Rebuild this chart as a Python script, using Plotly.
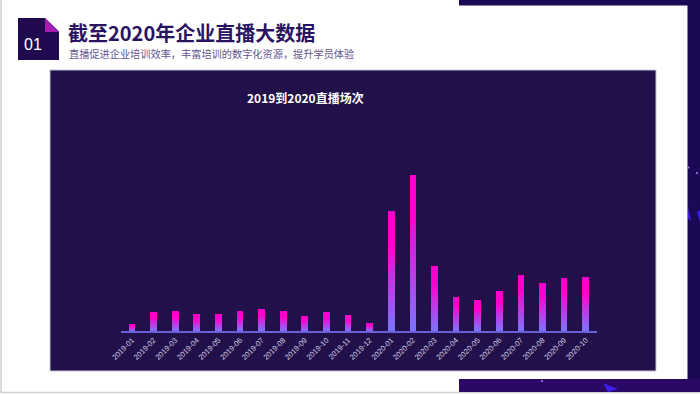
import plotly.graph_objects as go

# ---- data ----
months = ["2019-01", "2019-02", "2019-03", "2019-04", "2019-05", "2019-06",
          "2019-07", "2019-08", "2019-09", "2019-10", "2019-11", "2019-12",
          "2020-01", "2020-02", "2020-03", "2020-04", "2020-05", "2020-06",
          "2020-07", "2020-08", "2020-09", "2020-10"]
sessions = [430, 1180, 1240, 1050, 1050, 1240, 1390, 1220, 940, 1180, 980, 490,
            7690, 10000, 4150, 2180, 1970, 2520, 3590, 3060, 3380, 3460]

chart_title = "2019到2020直播场次"
page_title = "截至2020年企业直播大数据"
page_sub = "直播促进企业培训效率，丰富培训的数字化资源，提升学员体验"

W, H = 700, 394
def px(x):
    return x / W
def py(y):
    return (H - y) / H

# gradient colours (top -> bottom)
top_rgb = (255, 0, 204)
bot_rgb = (122, 118, 255)
N = 30

def grad_color(t):  # t=0 bottom, t=1 top
    s = min(1.0, t / 0.75)
    r = [round(b + (a - b) * s) for a, b in zip(top_rgb, bot_rgb)]
    return "rgb(%d,%d,%d)" % tuple(r)

fig = go.Figure()
for i in range(N):
    t = (i + 0.5) / N
    fig.add_trace(go.Bar(
        x=months, y=[v / N for v in sessions],
        marker=dict(color=grad_color(t), line=dict(width=0)),
        showlegend=False,
        customdata=sessions,
        hovertemplate="%{x}: %{customdata}<extra></extra>",
    ))

shapes = [
    # slide border
    dict(type="rect", xref="paper", yref="paper", x0=px(1), x1=px(699), y0=py(392.5), y1=py(-2),
         line=dict(color="#cfcfcf", width=1.5), fillcolor="white", layer="below"),
    # dark frame strips
    dict(type="rect", xref="paper", yref="paper", x0=px(459), x1=px(700), y0=py(5.5), y1=py(0),
         line=dict(width=0), fillcolor="#1c0956", layer="below"),
    dict(type="rect", xref="paper", yref="paper", x0=px(687.5), x1=px(700), y0=py(392), y1=py(0),
         line=dict(width=0), fillcolor="#1c0956", layer="below"),
    dict(type="rect", xref="paper", yref="paper", x0=px(459), x1=px(700), y0=py(392), y1=py(379),
         line=dict(width=0), fillcolor="#2a0966", layer="below"),
    # dark chart panel
    dict(type="rect", xref="paper", yref="paper", x0=px(50), x1=px(656), y0=py(371), y1=py(70),
         line=dict(color="#c4c0d4", width=1), fillcolor="#22104a", layer="below"),
    # "01" box
    dict(type="rect", xref="paper", yref="paper", x0=px(18), x1=px(59), y0=py(60), y1=py(18),
         line=dict(width=0), fillcolor="#20094f", layer="below"),
    dict(type="path", xref="paper", yref="paper",
         path="M %f %f L %f %f L %f %f Z" % (px(45), py(18), px(59.5), py(18), px(59.5), py(32)),
         line=dict(width=0), fillcolor="white", layer="below"),
    dict(type="path", xref="paper", yref="paper",
         path="M %f %f L %f %f L %f %f Z" % (px(45), py(18), px(59), py(32), px(45), py(32)),
         line=dict(width=0), fillcolor="#a51cb4", layer="below"),
    # decorations
    dict(type="circle", xref="paper", yref="paper", x0=px(687.5), x1=px(689.5), y0=py(168.5), y1=py(166.5),
         line=dict(width=0), fillcolor="#b07cff"),
    dict(type="circle", xref="paper", yref="paper", x0=px(696), x1=px(698), y0=py(174), y1=py(172),
         line=dict(width=0), fillcolor="#b07cff"),
    dict(type="circle", xref="paper", yref="paper", x0=px(541), x1=px(543), y0=py(382), y1=py(380),
         line=dict(width=0), fillcolor="#b07cff"),
    dict(type="path", xref="paper", yref="paper",
         path="M %f %f L %f %f L %f %f Z" % (px(603), py(383), px(618), py(389), px(608), py(392)),
         line=dict(width=0), fillcolor="#3b1ee8"),
    dict(type="path", xref="paper", yref="paper",
         path="M %f %f L %f %f L %f %f Z" % (px(688), py(207), px(691), py(221), px(688), py(218)),
         line=dict(width=0), fillcolor="#3b1ee8"),
    dict(type="path", xref="paper", yref="paper",
         path="M %f %f L %f %f L %f %f Z" % (px(697), py(212), px(700), py(210), px(700), py(222)),
         line=dict(width=0), fillcolor="#3b1ee8"),
]

annotations = [
    dict(text="01", xref="paper", yref="paper", x=px(33), y=py(45),
         xanchor="center", yanchor="middle", showarrow=False,
         font=dict(family="Liberation Sans, Arial", size=16, color="white")),
    dict(text="<b>" + page_title + "</b>", xref="paper", yref="paper", x=px(66), y=py(32.5),
         xanchor="left", yanchor="middle", showarrow=False,
         font=dict(family="Noto Sans CJK SC", size=20, color="#2a1462")),
    dict(text=page_sub, xref="paper", yref="paper", x=px(67), y=py(53.5),
         xanchor="left", yanchor="middle", showarrow=False,
         font=dict(family="Noto Sans CJK SC", size=10.2, color="#5f5590")),
    dict(text="<b>" + chart_title + "</b>", xref="paper", yref="paper", x=px(305), y=py(97),
         xanchor="center", yanchor="middle", showarrow=False,
         font=dict(family="Noto Sans CJK SC, Liberation Sans", size=12, color="white")),
]

y_top_px = 110
y_base_px = 331
ymax = max(sessions) * (y_base_px - y_top_px) / (y_base_px - 175)

fig.update_layout(
    width=W, height=H,
    margin=dict(l=0, r=0, t=0, b=0, pad=0),
    autosize=False,
    paper_bgcolor="white", plot_bgcolor="rgba(0,0,0,0)",
    barmode="stack", bargap=0.69,
    shapes=shapes, annotations=annotations,
    xaxis=dict(domain=[px(121.2), px(596.5)], type="category", tickangle=-45, automargin=False,
               showgrid=False, zeroline=False, showline=True, linecolor="#6a5fd6", linewidth=2,
               ticks="", tickfont=dict(family="Liberation Sans, Arial", size=7.5, color="#d2cee2")),
    yaxis=dict(domain=[py(y_base_px), py(y_top_px)], range=[0, ymax], visible=False,
               fixedrange=True, automargin=False),
)

fig.write_html(
    "out.html",
    config={"displayModeBar": False},
    post_script="document.body.style.margin='0';document.body.style.padding='0';document.body.style.overflow='hidden';",
)
